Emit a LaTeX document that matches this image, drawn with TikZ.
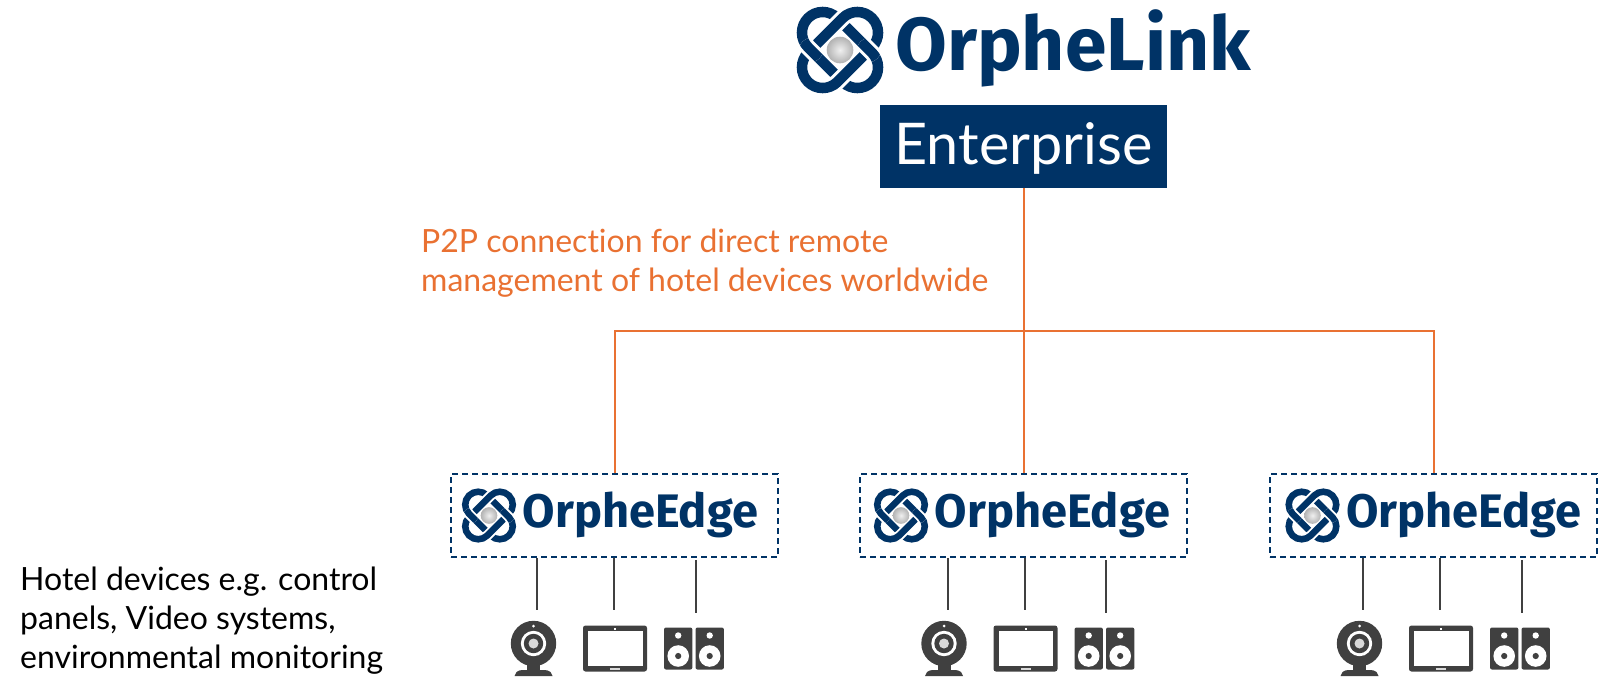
\documentclass[tikz,border=0pt]{standalone}
\usepackage{fontspec}
\usepackage{tikz}
\usetikzlibrary{positioning,calc}
\setmainfont{Lato}[Ligatures=NoCommon]
\newfontfamily\logofont{Fira Sans}
\definecolor{navy}{HTML}{003366}
\definecolor{linkorange}{HTML}{E97132}
\definecolor{devicegray}{HTML}{404040}
\tikzstyle{brandbox}=[fill=navy,text=white,minimum width=287pt,minimum height=83pt,inner sep=0pt,font=\fontsize{57.5}{57.5}\selectfont]
\tikzstyle{edgebox}=[draw=navy,line width=1.6pt,dash pattern=on 6pt off 4pt,minimum width=327pt,minimum height=83pt,inner sep=0pt]
\tikzstyle{brandname}=[text=navy,inner sep=0pt,anchor=base west]
\tikzstyle{note}=[inner sep=0pt,anchor=north west,align=left,font=\fontsize{32}{39}\selectfont]
\tikzstyle{link}=[draw=linkorange,line width=2pt]
\tikzstyle{deviceline}=[draw=devicegray,line width=2pt]
\newcommand{\ringpath}{(-24.5,-20.7) -- (24.5,-20.7) arc (-90:90:20.7) -- (-24.5,20.7) arc (90:270:20.7) -- cycle}
\newcommand{\logomark}[2]{
  \begin{scope}[shift={(#1)},x=#2pt,y=#2pt]
    \draw[navy,line width=10.5pt*#2,rotate=-45] \ringpath;
    \draw[white,line width=16.5pt*#2,rotate=45] \ringpath;
    \draw[navy,line width=10.5pt*#2,rotate=45] \ringpath;
    \foreach \side in {-29,29} {
      \begin{scope}
        \clip (\side,0) circle (12);
        \draw[white,line width=16.5pt*#2,rotate=-45] \ringpath;
        \draw[navy,line width=10.5pt*#2,rotate=-45] \ringpath;
      \end{scope}
    }
    \shade[inner color=black!6,outer color=black!30] (0,0) circle (13.3);
  \end{scope}
}
\newcommand{\drawwebcam}[1]{
  \begin{scope}[shift={(#1)}]
    \fill[devicegray] (-6.5,18) rectangle (6.5,28);
    \fill[devicegray] (-19,32.5) -- (-17,28.5) .. controls (-15,27) and (-13,26.5) .. (-11,26.5) -- (11,26.5) .. controls (13,26.5) and (15,27) .. (17,28.5) -- (19,32.5) -- cycle;
    \fill[devicegray] (0,0) circle (22.7);
    \fill[white] (0,0) circle (12.7);
    \fill[devicegray] (0,0) circle (9.7);
    \fill[white!85!black] (0,0) circle (5);
    \fill[white] (0,-17.5) circle (1.5);
  \end{scope}
}
\newcommand{\drawtablet}[1]{
  \begin{scope}[shift={(#1)}]
    \fill[devicegray,rounded corners=2.5pt] (-32,-23) rectangle (32,23);
    \fill[white] (-27,-17.5) rectangle (27.5,17.5);
    \fill[white] (-1,-20.5) rectangle (1,-19);
    \fill[white!85!black] (-5,19.5) rectangle (5,21.5);
  \end{scope}
}
\newcommand{\drawspeaker}[1]{
  \begin{scope}[shift={(#1)}]
    \fill[devicegray,rounded corners=2pt] (-14.2,-21) rectangle (14.2,21);
    \fill[white] (0,-13) circle (3.2);
    \fill[white] (0,7.5) circle (10.8);
    \fill[devicegray] (0,7.5) circle (3.1);
  \end{scope}
}

\begin{document}
\begin{tikzpicture}[x=1pt,y=-1pt]
\useasboundingbox (0,0) rectangle (1604,699);
\logomark{840,50}{1}
\node (linkname) [brandname,font=\logofont\bfseries\fontsize{75}{75}\selectfont] at (895,70) {OrpheLink};
\node (enterprise) [brandbox] at (1023.5,146.5) {\raisebox{-18pt}[0pt][0pt]{Enterprise}};
\node (linknote) [note,text=linkorange] at (421,229) {P2P connection for direct remote\\management of hotel devices worldwide};
\node (hotelnote) [note,text=black] at (20,567) {Hotel devices e.g. control\\panels, Video systems,\\environmental monitoring};
\foreach \n/\bx/\lx/\dx in {1/614.5/489/0,2/1023.5/901/410.5,3/1433.5/1312.5/826} {
  \node (edge\n) [edgebox] at (\bx,515.5) {};
  \logomark{\lx,515.5}{0.625}
  \node (edgename\n) [brandname,font=\logofont\bfseries\fontsize{47}{47}\selectfont] at (\lx+33.5,527) {OrpheEdge};
  \coordinate (camtop\n) at (537+\dx,610);
  \coordinate (tablettop\n) at (614+\dx,610);
  \coordinate (speakertop\n) at (695.5+\dx,613);
  \draw[deviceline] (edge\n.south -| camtop\n) -- (camtop\n);
  \draw[deviceline] (edge\n.south -| tablettop\n) -- (tablettop\n);
  \draw[deviceline] ($(edge\n.south -| speakertop\n)+(0,2)$) -- (speakertop\n);
  \drawwebcam{533.5+\dx,643.5}
  \drawtablet{615+\dx,648.5}
  \drawspeaker{678.2+\dx,648.5}
  \drawspeaker{709.7+\dx,648.5}
}
\coordinate (branch) at (1023.5,331);
\draw[link] (enterprise.south) -- (edge2.north);
\draw[link] (edge1.north) |- (branch) -| (edge3.north);
\end{tikzpicture}
\end{document}
